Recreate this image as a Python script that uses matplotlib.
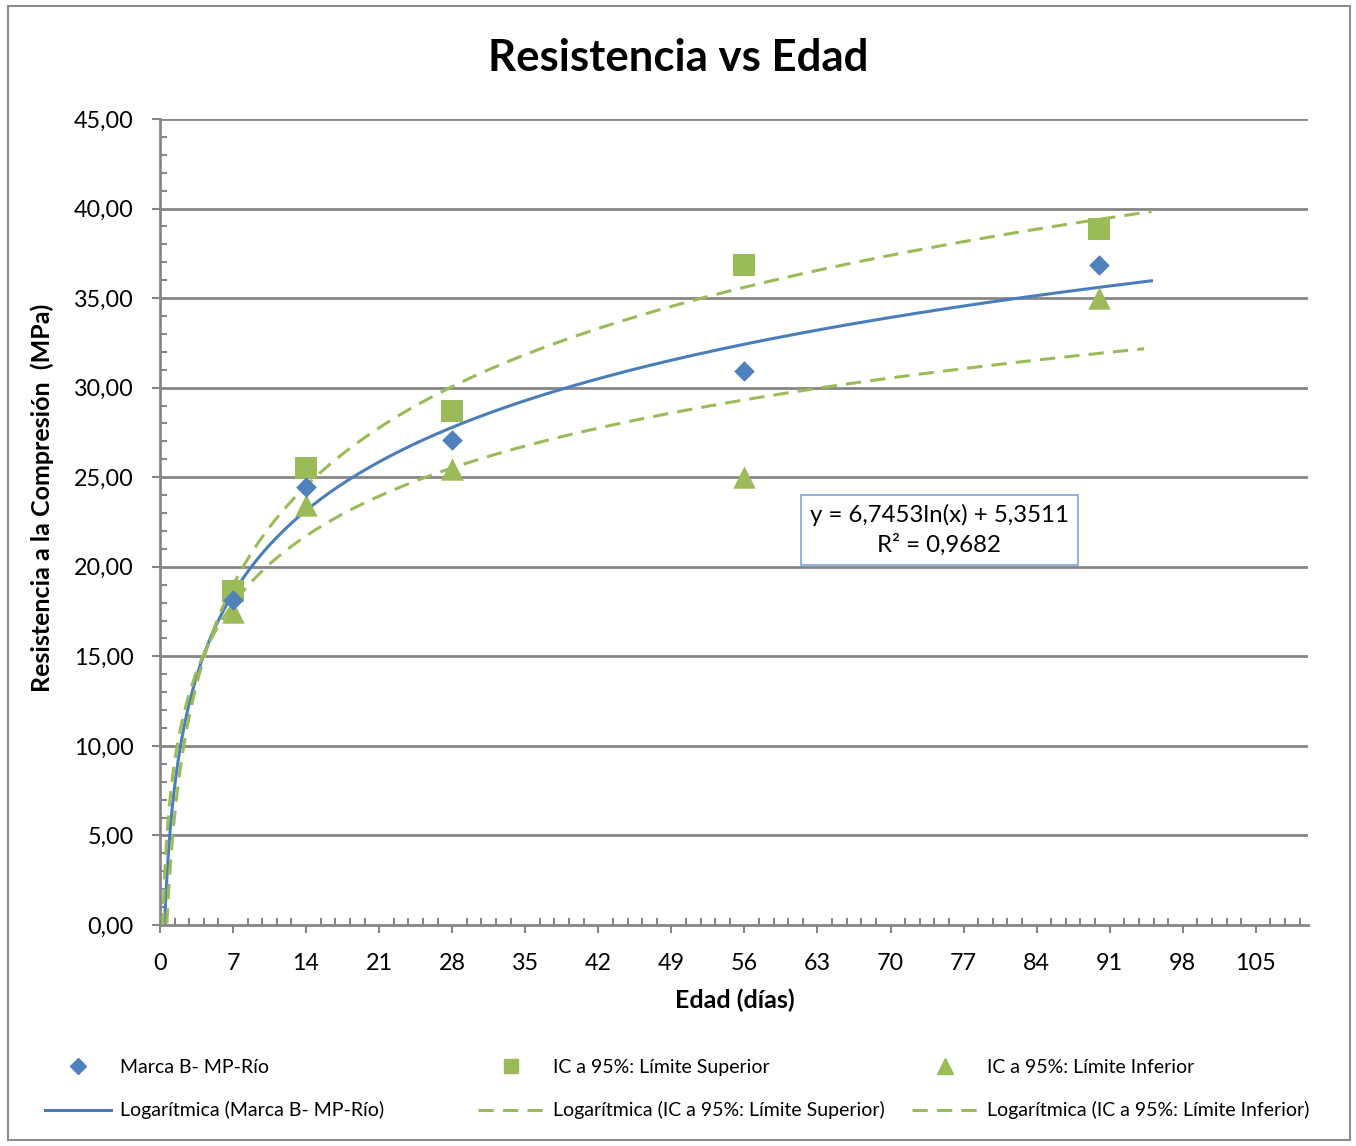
import numpy as np
import matplotlib.pyplot as plt
from matplotlib.ticker import MultipleLocator, FuncFormatter
from matplotlib.patches import Rectangle

plt.rcParams['font.family'] = ['Lato', 'DejaVu Sans']

# data
edad = [7, 14, 28, 56, 90]
marca_b = [18.15, 24.45, 27.08, 30.93, 36.85]
lim_sup = [18.65, 25.50, 28.70, 36.85, 38.86]
lim_inf = [17.50, 23.45, 25.46, 25.00, 35.00]

x_ticks = [0, 7, 14, 21, 28, 35, 42, 49, 56, 63, 70, 77, 84, 91, 98, 105]
y_ticks = [0, 5, 10, 15, 20, 25, 30, 35, 40, 45]
eq_text = "y = 6,7453ln(x) + 5,3511\nR² = 0,9682"

blue = '#4F81BD'
blue_line = '#4A7EBB'
green = '#9BBB59'
grid_c = '#868686'


def log_fit(x, y):
    a, b = np.polyfit(np.log(x), y, 1)
    return a, b


fig = plt.figure(figsize=(13.56, 11.46), dpi=100)
ax = fig.add_axes([160 / 1356, 1 - 925 / 1146, 1148 / 1356, 806 / 1146])

xs = np.linspace(0.2, 95, 600)
a, b = log_fit(edad, marca_b)
ax.plot(xs, a * np.log(xs) + b, color=blue_line, lw=2.2, zorder=3)
a, b = log_fit(edad, lim_sup)
ax.plot(xs, a * np.log(xs) + b, color=green, lw=2.2, ls=(0, (5, 3)), zorder=3)
a, b = log_fit(edad, lim_inf)
xs2 = np.linspace(0.2, 94.3, 600)
ax.plot(xs2, a * np.log(xs2) + b, color=green, lw=2.2, ls=(0, (5, 3)), zorder=3)

ax.scatter(edad, lim_sup, marker='s', s=230, color=green, zorder=4, linewidths=0)
ax.scatter(edad, marca_b, marker='D', s=110, color=blue, zorder=5, linewidths=0)
ax.scatter(edad, lim_inf, marker='^', s=260, color=green, zorder=4, linewidths=0)

ax.set_xlim(0, 110)
ax.set_ylim(0, 45)
ax.set_xticks(x_ticks)
ax.set_yticks(y_ticks)
ax.xaxis.set_minor_locator(MultipleLocator(1.4))
ax.yaxis.set_minor_locator(MultipleLocator(1))
ax.yaxis.set_major_formatter(FuncFormatter(lambda v, p: f"{v:.2f}".replace('.', ',')))
ax.tick_params(axis='both', which='major', labelsize=16.8, length=6, width=1.5,
               color=grid_c, direction='out')
ax.tick_params(axis='both', which='minor', length=5, width=1.5, color=grid_c,
               direction='in')
ax.tick_params(axis='y', which='major', pad=13)
ax.tick_params(axis='x', which='major', pad=14)

for yv in y_ticks[1:]:
    ax.axhline(yv, color=grid_c, lw=2, zorder=1)
for s in ['top', 'right']:
    ax.spines[s].set_visible(False)
for s in ['left', 'bottom']:
    ax.spines[s].set_color(grid_c)
    ax.spines[s].set_linewidth(2)

ax.text(0.679, 0.49, eq_text, transform=ax.transAxes, ha='center', va='center',
        fontsize=17.3, linespacing=1.4, zorder=6,
        bbox=dict(boxstyle='square,pad=0.38', fc='white', ec='#7EA6D6', lw=1.2))

fig.text(0.5, 1 - 58 / 1146, "Resistencia vs Edad", ha='center', va='center',
         fontsize=31.5, fontweight='bold')
fig.text(42 / 1356, 1 - 498 / 1146, "Resistencia a la Compresión  (MPa)", ha='center',
         va='center', rotation=90, fontsize=18, fontweight='bold')
fig.text(735 / 1356, 1 - 1000 / 1146, "Edad (días)", ha='center', va='center',
         fontsize=18, fontweight='bold')

# legend, three columns of two rows
h_pts = [
    plt.Line2D([], [], ls='none', marker='D', color=blue, markersize=8),
    plt.Line2D([], [], ls='none', marker='s', color=green, markersize=10),
    plt.Line2D([], [], ls='none', marker='^', color=green, markersize=11),
]
h_lines = [
    plt.Line2D([], [], color=blue_line, lw=2.2),
    plt.Line2D([], [], color=green, lw=2.2, ls=(0, (5, 3))),
    plt.Line2D([], [], color=green, lw=2.2, ls=(0, (5, 3))),
]
labels_pts = ["Marca B- MP-Río", "IC a 95%: Límite Superior", "IC a 95%: Límite Inferior"]
labels_lines = ["Logarítmica (Marca B- MP-Río)", "Logarítmica (IC a 95%: Límite Superior)",
                "Logarítmica (IC a 95%: Límite Inferior)"]
col_x = [45, 478, 912]
for i in range(3):
    fig.legend([h_pts[i], h_lines[i]], [labels_pts[i], labels_lines[i]],
               loc='upper left', bbox_to_anchor=(col_x[i] / 1356, 1 - 1059 / 1146),
               frameon=False, fontsize=14, handlelength=3.4, handletextpad=0.45,
               labelspacing=1.3, borderpad=0, borderaxespad=0)

fig.patches.append(Rectangle((8 / 1356, 6 / 1146), 1342 / 1356, 1134 / 1146,
                             transform=fig.transFigure, fill=False, ec='#8C8C8C', lw=1.5))

fig.savefig('out.png', dpi=100)
